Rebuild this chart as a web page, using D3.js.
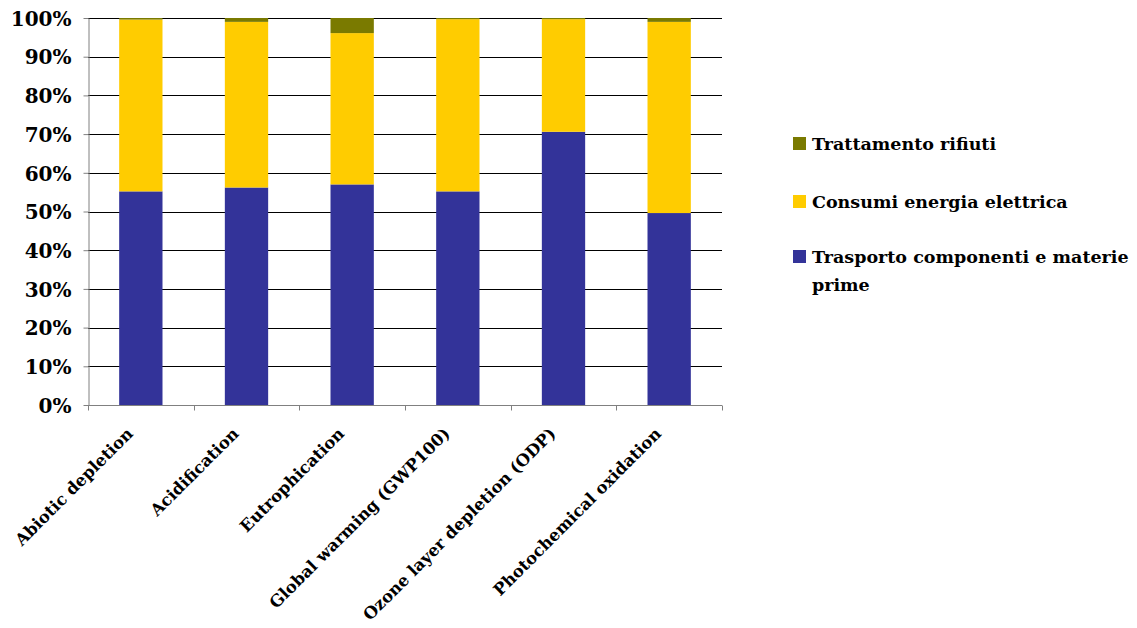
<!DOCTYPE html>
<html><head><meta charset="utf-8">
<script src="https://cdn.jsdelivr.net/npm/d3@7"></script>
<style>body{margin:0;background:#fff}svg{display:block}</style>
</head><body>
<svg id="c" width="1137" height="628"></svg>
<script>
const categories = ["Abiotic depletion","Acidification","Eutrophication","Global warming (GWP100)","Ozone layer depletion (ODP)","Photochemical oxidation"];
const trasporto = [55.2, 56.2, 57.0, 55.2, 70.6, 49.6];
const consumi   = [44.4, 42.8, 39.1, 44.5, 29.1, 49.4];
const rifiuti   = [0.4, 1.0, 3.9, 0.3, 0.3, 1.0];
const seriesNames = ["Trasporto componenti e materie prime","Consumi energia elettrica","Trattamento rifiuti"];
const colors = ["#333399","#FFCC00","#7A7A00"];
const yTicks = [0,10,20,30,40,50,60,70,80,90,100];

const svg = d3.select("#c");
const mLeft = 88, mRight = 722, mTop = 18, mBottom = 405;
const x = d3.scaleBand().domain(categories).range([mLeft, mRight]).paddingInner(0.59).paddingOuter(0.295);
const y = d3.scaleLinear().domain([0,100]).range([mBottom, mTop]);
const font = "'DejaVu Serif', 'Liberation Serif', serif";

// gridlines
svg.append("g").selectAll("line").data(yTicks.filter(d=>d>0)).join("line")
  .attr("x1", mLeft).attr("x2", mRight).attr("y1", d=>Math.round(y(d))+0.5).attr("y2", d=>Math.round(y(d))+0.5)
  .attr("stroke", "#000").attr("stroke-width", 1);

// stacked bars
const rows = categories.map((c,i)=>({cat:c, s0:trasporto[i], s1:consumi[i], s2:rifiuti[i]}));
const stack = d3.stack().keys(["s0","s1","s2"])(rows);
svg.append("g").selectAll("g").data(stack).join("g").attr("fill", (d,i)=>colors[i])
  .selectAll("rect").data(d=>d).join("rect")
  .attr("x", d=>x(d.data.cat)).attr("width", x.bandwidth())
  .attr("y", d=>y(Math.min(100,d[1]))).attr("height", d=>y(d[0]) - y(Math.min(100,d[1])));

// y axis
const ya = svg.append("g").attr("transform", `translate(${mLeft+0.5},0)`)
  .call(d3.axisLeft(y).tickValues(yTicks).tickFormat(d=>d+"%").tickSize(5).tickSizeOuter(0));
ya.select(".domain").attr("stroke", "#808080");
ya.selectAll(".tick line").attr("stroke", "#808080");
ya.selectAll("text").attr("font-family", font).attr("font-weight", "bold").attr("font-size", 20).attr("fill", "#000").attr("x", -17).attr("dy", "0.36em");

// x axis
const xa = svg.append("g").attr("transform", `translate(0,${mBottom+0.5})`);
xa.append("line").attr("x1", mLeft).attr("x2", mRight).attr("stroke", "#808080");
xa.selectAll("line.t").data(d3.range(categories.length+1)).join("line").attr("class","t")
  .attr("x1", i=>Math.round(mLeft + i*(mRight-mLeft)/categories.length)+0.5)
  .attr("x2", i=>Math.round(mLeft + i*(mRight-mLeft)/categories.length)+0.5)
  .attr("y1", 0).attr("y2", 5).attr("stroke", "#808080");
xa.selectAll("text").data(categories).join("text")
  .attr("transform", d=>`translate(${x(d)+x.bandwidth()/2-15},${21}) rotate(-45)`)
  .attr("text-anchor", "end").attr("dy", "0.7em")
  .attr("font-family", font).attr("font-weight", "bold").attr("font-size", 16.5).attr("fill", "#000")
  .text(d=>d);

// legend
const legend = [
  {name: seriesNames[2], color: colors[2], y: 143},
  {name: seriesNames[1], color: colors[1], y: 201},
  {name: seriesNames[0], color: colors[0], y: 256}
];
const lg = svg.append("g");
lg.selectAll("rect").data(legend).join("rect")
  .attr("x", 793).attr("y", d=>d.y-6).attr("width", 13).attr("height", 13).attr("fill", d=>d.color);
const lt = lg.selectAll("text").data(legend).join("text")
  .attr("x", 812).attr("y", d=>d.y).attr("dy", "0.38em")
  .attr("font-family", font).attr("font-weight", "bold").attr("font-size", 17.5).attr("fill", "#000");
lt.each(function(d){
  const t = d3.select(this);
  if (d.name.startsWith("Trasporto")) {
    t.append("tspan").attr("x", 812).text("Trasporto componenti e materie");
    t.append("tspan").attr("x", 812).attr("dy", "1.6em").text("prime");
  } else t.text(d.name);
});
</script>
</body></html>
